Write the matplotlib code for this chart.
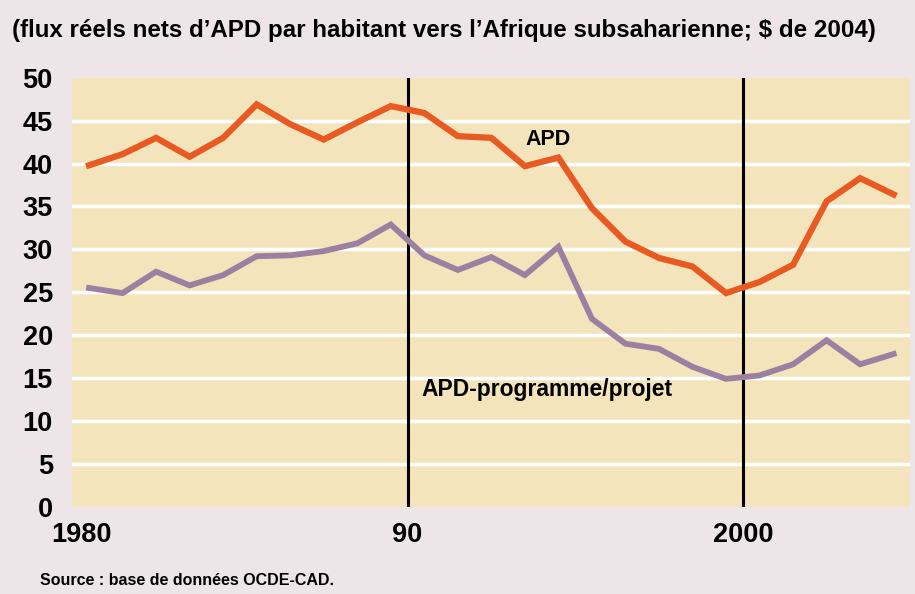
import numpy as np
import matplotlib
matplotlib.use('Agg')
import matplotlib.pyplot as plt
import matplotlib.transforms as mtransforms

plt.rcParams['font.family'] = ['Liberation Sans', 'DejaVu Sans']

# données (points en milieu d'année)
years = list(range(1980, 2005))
apd = [39.8, 41.1, 43.0, 40.8, 43.0, 46.9, 44.6, 42.8, 44.8, 46.7,
       45.9, 43.2, 43.0, 39.7, 40.7, 34.8, 30.9, 29.0, 28.0, 24.9,
       26.2, 28.2, 35.6, 38.3, 36.4]
apd_prog = [25.5, 24.9, 27.4, 25.8, 27.0, 29.2, 29.3, 29.8, 30.7, 32.9,
            29.3, 27.6, 29.1, 27.0, 30.3, 21.9, 19.0, 18.4, 16.3, 14.9,
            15.3, 16.6, 19.4, 16.6, 17.8]
yticks = [0, 5, 10, 15, 20, 25, 30, 35, 40, 45, 50]
xticks = [1980, 1990, 2000]
xticklabels = ['1980', '90', '2000']

title = "(flux réels nets d\u2019APD par habitant vers l\u2019Afrique subsaharienne; $ de 2004)"
source = "Source : base de données OCDE-CAD."

fig = plt.figure(figsize=(9.15, 5.94), dpi=100)
fig.patch.set_facecolor('#ede5e7')
ax = fig.add_axes([0.079, 0.147, 0.916, 0.722])
ax.set_facecolor('#f3e4bb')

x = np.array(years) + 0.5
for v in yticks[1:-1]:
    ax.axhline(v, color='white', lw=2.5, zorder=1)
for v in [1990, 2000]:
    ax.axvline(v, color='black', lw=2.2, zorder=2)

ax.plot(x, apd_prog, color='#9c80a2', lw=4.2, solid_joinstyle='miter', zorder=3)
ax.plot(x, apd, color='#e85a22', lw=4.5, solid_joinstyle='miter', zorder=4)

ax.text(1994.2, 42.8, 'APD', fontsize=15.5, fontweight='bold', ha='center', va='center', zorder=5)
ax.text(1990.4, 13.7, 'APD-programme/projet', fontsize=16.5, fontweight='bold',
        ha='left', va='center', zorder=5)

ax.set_xlim(1980, 2005)
ax.set_ylim(0, 50)
ax.set_yticks(yticks)
ax.set_xticks(xticks)
ax.set_xticklabels(xticklabels)
for s in ax.spines.values():
    s.set_visible(False)
ax.tick_params(axis='both', length=0, labelsize=19.5)
ax.tick_params(axis='y', pad=14)
ax.tick_params(axis='x', pad=11)
for lab in ax.get_xticklabels() + ax.get_yticklabels():
    lab.set_fontweight('bold')
# décaler "1980" un peu à droite, comme sur l'original
first = ax.get_xticklabels()[0]
first.set_transform(first.get_transform() +
                    mtransforms.ScaledTranslation(9 / 100, 0, fig.dpi_scale_trans))

fig.text(0.013, 0.948, title, fontsize=17.4, fontweight='bold', ha='left', va='center')
fig.text(0.044, 0.022, source, fontsize=11.5, fontweight='bold', ha='left', va='center')

fig.savefig('out.png', dpi=100, facecolor=fig.get_facecolor())
